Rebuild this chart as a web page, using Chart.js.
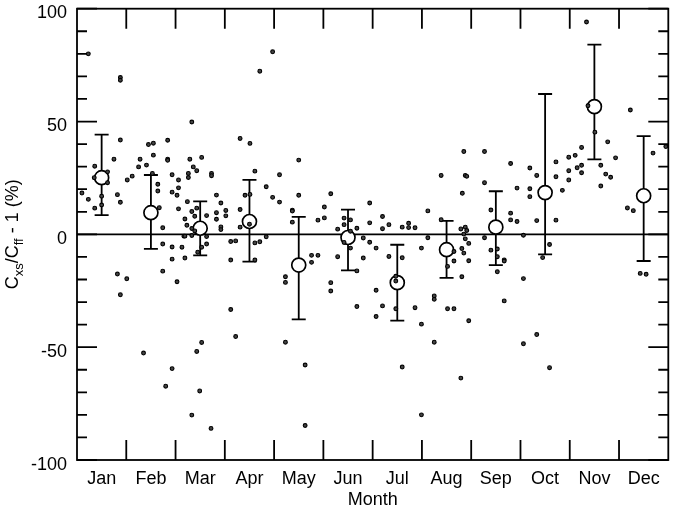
<!DOCTYPE html>
<html>
<head>
<meta charset="utf-8">
<script src="https://cdn.jsdelivr.net/npm/chart.js@4.4.1/dist/chart.umd.min.js"></script>
<style>
  html, body { margin: 0; padding: 0; background: #fff; }
  #wrap { width: 677px; height: 505px; }
</style>
</head>
<body>
<div id="wrap"><canvas id="c" width="677" height="505"></canvas></div>
<script>
// ---------- DATA ----------
const monthLabels = ['Jan','Feb','Mar','Apr','May','Jun','Jul','Aug','Sep','Oct','Nov','Dec'];
const yTickValues = [-100, -50, 0, 50, 100];

// monthly means with error bars (%)
const meanValues = [25.1, 9.6, 2.7, 5.7, -13.6, -1.4, -21.4, -6.8, 3.2, 18.5, 56.6, 17.1];
const errUpper   = [44.2, 26.3, 14.6, 24.1, 7.7, 11.0, -4.6, 6.0, 19.1, 62.2, 84.1, 43.5];
const errLower   = [8.5, -6.4, -9.3, -12.1, -37.7, -16.0, -38.2, -19.3, -13.6, -8.9, 33.2, -11.8];

// individual observations: position along the month axis and value (%)
const obsPosition = [
  0.10,0.23,0.23,0.36,0.35,0.36,0.50,0.50,0.62,0.62,0.75,0.82,0.88,0.88,0.88,0.88,0.82,0.88,1.01,
  1.02,1.12,1.25,1.28,1.35,1.41,1.45,1.55,1.55,1.53,1.64,1.64,1.67,1.74,1.74,1.74,1.80,1.84,1.84,1.84,1.93,1.93,1.93,1.93,1.93,2.03,
  2.06,2.06,2.03,2.06,2.13,2.19,2.19,2.23,2.24,2.26,2.26,2.29,2.33,2.36,2.43,2.33,2.39,2.43,2.53,2.33,2.39,2.33,2.17,2.19,2.45,2.53,
  2.63,2.63,2.63,2.73,2.73,2.83,2.83,2.83,2.92,2.92,2.92,2.33,2.43,2.53,2.49,2.72,3.02,3.02,
  3.12,3.22,3.12,3.12,3.22,3.31,3.51,3.61,3.41,3.51,3.31,3.31,3.50,3.61,3.71,3.61,3.84,3.84,3.97,3.71,3.97,
  4.11,4.11,4.23,4.23,4.23,4.37,4.37,4.37,4.50,4.50,4.63,4.63,4.76,4.76,4.89,4.89,
  5.02,5.02,5.15,5.15,5.15,5.29,5.29,5.42,5.42,5.42,5.55,5.55,5.55,5.68,5.68,5.68,5.81,5.81,5.94,5.94,5.94,
  6.07,6.07,6.07,6.20,6.20,6.20,6.33,6.33,6.47,6.47,6.47,6.60,6.60,6.60,6.73,6.73,6.86,6.86,6.99,6.99,6.99,
  7.12,7.12,7.25,7.25,7.25,7.39,7.39,7.52,7.52,7.65,7.65,7.65,7.79,7.79,7.82,7.85,7.88,7.91,7.88,7.91,7.85,7.88,7.95,7.81,7.85,7.95,7.81,7.95,
  8.27,8.27,8.27,8.40,8.40,8.53,8.53,8.67,8.67,8.53,8.67,8.80,8.80,8.80,8.93,8.93,
  9.06,9.06,9.06,9.19,9.19,9.19,9.33,9.33,9.33,9.45,9.59,9.59,9.72,9.72,9.72,9.85,
  9.98,9.98,9.98,10.11,10.15,10.24,10.24,10.24,10.34,10.37,10.51,10.63,10.63,10.73,10.83,10.77,10.93,
  11.17,11.29,11.23,11.43,11.55,11.69,11.95
];
const obsValue = [
  18.3,15.5,80.0,30.2,25.1,11.6,16.9,13.0,27.7,22.9,33.3,17.6,14.2,41.8,69.5,68.3,-17.6,-26.8,-19.7,
  24.1,25.8,29.9,33.3,-52.6,30.7,39.8,40.4,35.1,27.0,22.2,19.2,11.8,2.9,-4.3,-16.3,-67.3,41.7,33.3,32.8,26.4,18.7,-5.6,-11.0,-59.5,-21.0,
  24.1,20.6,17.3,11.3,-5.7,-10.5,6.8,4.0,14.5,27.0,25.2,33.3,49.8,29.9,28.2,10.1,8.0,11.6,34.1,2.6,1.5,-0.5,-0.8,-0.8,-7.9,-5.7,
  -1.0,-4.3,8.3,27.0,26.0,17.4,9.6,6.7,13.9,3.3,2.1,-80.1,-51.9,-47.9,-69.4,-86.0,10.6,8.2,
  -3.2,-2.9,-11.4,-33.3,-45.3,42.5,40.3,28.0,17.3,17.7,11.0,3.2,4.5,-3.8,-3.3,-11.4,21.1,-1.1,16.4,72.3,80.9,
  26.4,14.3,-18.8,-21.3,-47.8,10.7,10.3,5.4,32.9,17.3,-57.9,-84.7,-9.3,-12.4,-9.3,6.3,
  12.1,7.3,18.0,-21.4,-25.1,2.3,-9.9,7.2,4.3,-3.6,6.4,1.4,-6.1,2.7,-16.2,-32.0,-1.6,-10.5,13.9,5.1,-3.5,
  -6.1,-24.8,-36.4,7.9,2.5,-31.7,4.3,-9.8,-18.6,-20.7,-33.0,3.2,-10.4,-58.8,4.9,3.0,2.9,-32.5,-6.1,-39.8,-80.0,
  10.4,-1.5,-27.3,-28.8,-47.8,26.1,6.5,-14.2,-33.0,-33.0,-11.8,-7.6,2.4,-63.7,18.2,36.7,26.1,25.7,3.2,1.7,0.1,-2.0,-4.0,-6.3,-8.3,-11.7,-18.8,-38.3,
  36.7,22.9,-1.5,10.8,-7.0,-6.5,-9.9,-11.3,-11.8,-16.6,-29.5,31.4,9.4,6.4,20.5,5.7,
  -0.4,-19.6,-48.5,29.4,20.2,16.7,26.1,6.1,-44.4,-10.3,-4.5,-59.1,32.1,25.5,6.3,19.5,
  34.2,28.2,24.1,35.0,29.5,38.5,30.6,27.3,94.1,57.0,45.3,30.6,21.4,26.7,25.3,41.0,33.9,
  11.7,10.5,55.1,-17.3,-17.7,36.0,38.9
];

// ---------- CHART ----------
const FONT = '"Liberation Sans", Arial, Helvetica, sans-serif';
const obsPoints = obsPosition.map((p, i) => ({ x: p, y: obsValue[i] }));
const meanPoints = meanValues.map((v, i) => ({ x: i + 0.5, y: v }));

const overlay = {
  id: 'overlay',
  beforeDatasetsDraw(chart) {
    const { ctx, chartArea: a, scales: { x, y } } = chart;
    ctx.save();
    ctx.strokeStyle = '#000';
    ctx.lineWidth = 1.8;
    // zero line
    const y0 = y.getPixelForValue(0);
    ctx.beginPath(); ctx.moveTo(a.left, y0); ctx.lineTo(a.right, y0); ctx.stroke();
    // error bars
    meanValues.forEach((m, i) => {
      const px = x.getPixelForValue(i + 0.5);
      const t = y.getPixelForValue(errUpper[i]);
      const b = y.getPixelForValue(errLower[i]);
      ctx.beginPath();
      ctx.moveTo(px, t); ctx.lineTo(px, b);
      ctx.moveTo(px - 7, t); ctx.lineTo(px + 7, t);
      ctx.moveTo(px - 7, b); ctx.lineTo(px + 7, b);
      ctx.stroke();
    });
    ctx.restore();
  },
  afterDraw(chart) {
    const { ctx, chartArea: a, scales: { x, y } } = chart;
    ctx.save();
    ctx.strokeStyle = '#000';
    ctx.fillStyle = '#000';
    ctx.lineWidth = 1.8;
    // frame
    ctx.strokeRect(a.left, a.top, a.right - a.left, a.bottom - a.top);
    // x ticks at month boundaries (top and bottom, inward)
    ctx.beginPath();
    for (let k = 1; k < monthLabels.length; k++) {
      const px = x.getPixelForValue(k);
      ctx.moveTo(px, a.bottom); ctx.lineTo(px, a.bottom - 20);
      ctx.moveTo(px, a.top); ctx.lineTo(px, a.top + 20);
    }
    // y ticks: major every 50, minor every 10 (left and right, inward)
    for (let v = -100; v <= 100; v += 10) {
      const py = y.getPixelForValue(v);
      const len = (v % 50 === 0) ? 20 : 10;
      ctx.moveTo(a.left, py); ctx.lineTo(a.left + len, py);
      ctx.moveTo(a.right, py); ctx.lineTo(a.right - len, py);
    }
    ctx.stroke();
    // y tick labels
    ctx.font = '18px ' + FONT;
    ctx.textAlign = 'right';
    ctx.textBaseline = 'alphabetic';
    yTickValues.forEach(v => {
      ctx.fillText(String(v), a.left - 10, y.getPixelForValue(v) + 9.5);
    });
    // month labels
    ctx.textAlign = 'center';
    monthLabels.forEach((m, i) => {
      ctx.fillText(m, x.getPixelForValue(i + 0.5), a.bottom + 24);
    });
    // x title
    ctx.fillText('Month', (a.left + a.right) / 2, a.bottom + 44.5);
    // y title with subscripts, rotated
    const parts = [
      { t: 'C', sub: false }, { t: 'xs', sub: true }, { t: '/C', sub: false },
      { t: 'ff', sub: true }, { t: ' - 1 (%)', sub: false }
    ];
    const mainF = '18px ' + FONT, subF = '13px ' + FONT;
    let total = 0;
    parts.forEach(p => { ctx.font = p.sub ? subF : mainF; p.w = ctx.measureText(p.t).width; total += p.w; });
    ctx.translate(18, (a.top + a.bottom) / 2);
    ctx.rotate(-Math.PI / 2);
    ctx.textAlign = 'left';
    let cx = -total / 2;
    parts.forEach(p => {
      ctx.font = p.sub ? subF : mainF;
      ctx.fillText(p.t, cx, p.sub ? 5 : 0);
      cx += p.w;
    });
    ctx.restore();
  }
};

new Chart(document.getElementById('c'), {
  type: 'scatter',
  data: {
    datasets: [
      {
        label: 'observations',
        data: obsPoints,
        pointRadius: 1.9,
        pointBorderWidth: 1.1,
        pointBorderColor: '#000',
        pointBackgroundColor: '#444',
        pointHoverRadius: 1.9
      },
      {
        label: 'monthly mean',
        data: meanPoints,
        pointRadius: 7,
        pointBorderWidth: 1.7,
        pointBorderColor: '#000',
        pointBackgroundColor: '#fff',
        pointHoverRadius: 7
      }
    ]
  },
  options: {
    responsive: false,
    animation: false,
    events: [],
    layout: { padding: { top: 7, right: 1, left: 0, bottom: 0 } },
    plugins: { legend: { display: false }, tooltip: { enabled: false } },
    scales: {
      x: {
        type: 'linear', min: 0, max: 12,
        grid: { display: false }, border: { display: false },
        ticks: { display: false },
        afterFit(s) { s.height = 45; }
      },
      y: {
        type: 'linear', min: -100, max: 100,
        grid: { display: false }, border: { display: false },
        ticks: { display: false, stepSize: 50 },
        afterFit(s) { s.width = 77; }
      }
    }
  },
  plugins: [overlay]
});
</script>
</body>
</html>
